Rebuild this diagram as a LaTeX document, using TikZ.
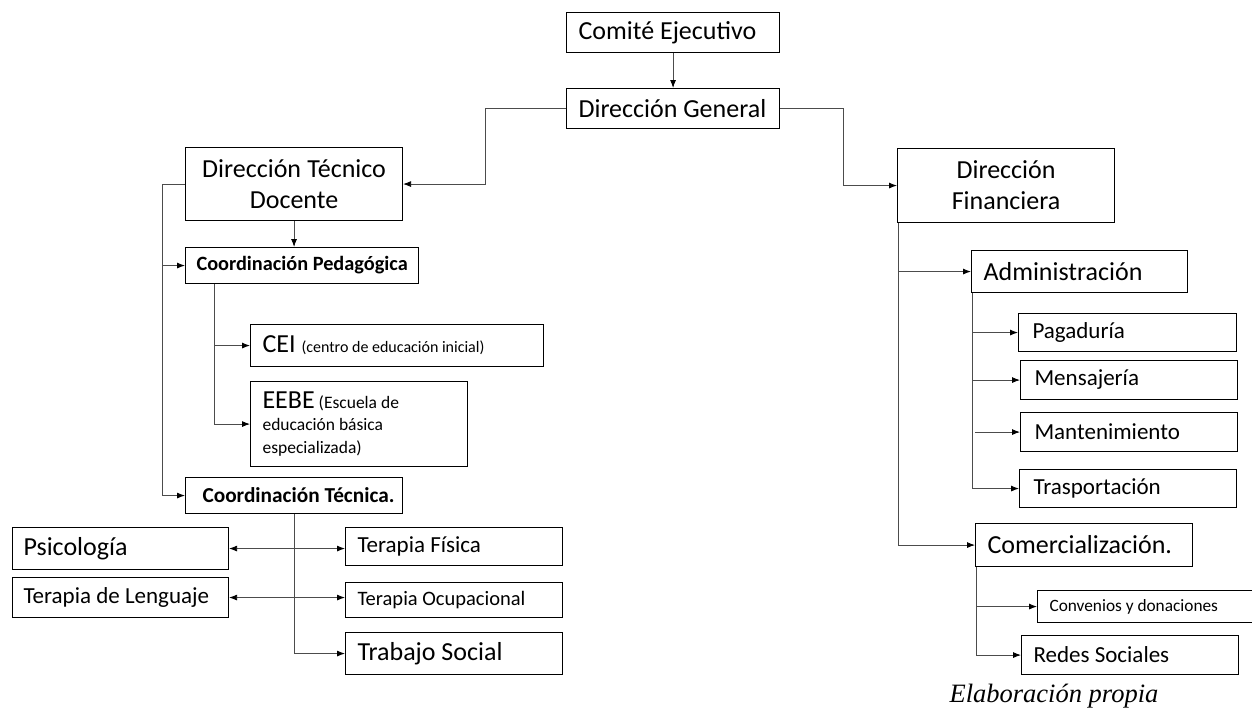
\documentclass[tikz,border=0pt]{standalone}
\usepackage{fontspec}
\setmainfont{Carlito}
\newfontfamily\capfont{Liberation Serif}
\usetikzlibrary{arrows.meta}
\tikzset{
  box/.style={draw=black, line width=1.1pt, inner sep=0pt, anchor=north west, align=left,
    execute at begin node={\spaceskip=0pt\xspaceskip=0pt\relax}},
  conn/.style={draw=black!70, line width=0.8pt},
  tip/.style={Latex[length=8pt,width=6pt,color=black]},
  arr/.style={conn, -{Latex[length=8pt,width=6pt,color=black]}},
  dbl/.style={conn, {Latex[length=8pt,width=6pt,color=black]}-{Latex[length=8pt,width=6pt,color=black]}},
  big/.style={font=\fontsize{26}{31}\selectfont},
  mid/.style={font=\fontsize{23}{27}\selectfont},
}
\begin{document}
\begin{tikzpicture}[x=1pt,y=-1pt]
\useasboundingbox (0,0) rectangle (1252,715);
% top
\node[box, big, minimum width=213, minimum height=40, text width=189] (ce) at (566,12) {\mbox{Comité Ejecutivo}};
\node[box, big, minimum width=213, minimum height=40, text width=189] (dg) at (566,88) {\mbox{Dirección General}};
\node[box, big, minimum width=217, minimum height=73, text width=200, align=center] (dtd) at (185,147) {Dirección Técnico\\Docente};
\node[box, big, minimum width=217, minimum height=74, text width=200, align=center] (df) at (897,148) {Dirección\\Financiera};
% left side
\node[box, font=\fontsize{20.3}{24}\selectfont\bfseries, minimum width=233, minimum height=36, text width=211] (cp) at (185,247) {\mbox{Coordinación Pedagógica}};
\node[box, big, minimum width=293, minimum height=42, text width=269] (cei) at (250,324) {\mbox{CEI {\fontsize{16}{19}\selectfont(centro de educación inicial)}}};
\node[box, font=\fontsize{17.5}{22.5}\selectfont, minimum width=217, minimum height=85, text width=193] (eebe) at (250,381) {{\fontsize{26}{22.5}\selectfont EEBE} (Escuela de\\educación básica\\especializada)};
\node[box, font=\fontsize{21.3}{25}\selectfont\bfseries, minimum width=217, minimum height=36, text width=183] (ct) at (185,477) {\mbox{Coordinación Técnica.}};
\node[box, big, minimum width=216, minimum height=42, text width=194] (psi) at (12,527) {\mbox{Psicología}};
\node[box, mid, minimum width=216, minimum height=40, text width=194] (tl) at (12,577) {\mbox{Terapia de Lenguaje}};
\node[box, mid, minimum width=217, minimum height=38, text width=193] (tf) at (345,527) {\mbox{Terapia Física}};
\node[box, font=\fontsize{20.5}{24}\selectfont, minimum width=217, minimum height=35, text width=193] (to) at (345,582) {\mbox{Terapia Ocupacional}};
\node[box, big, minimum width=217, minimum height=42, text width=193] (ts) at (345,632) {\mbox{Trabajo Social}};
% right side
\node[box, big, minimum width=216, minimum height=42, text width=192] (adm) at (971,250) {\mbox{Administración}};
\node[box, mid, minimum width=218, minimum height=38, text width=190] (pag) at (1018,313) {\mbox{Pagaduría}};
\node[box, mid, minimum width=217, minimum height=39, text width=189] (men) at (1020,360) {\mbox{Mensajería}};
\node[box, mid, minimum width=217, minimum height=39, text width=189] (man) at (1020,412) {\mbox{Mantenimiento}};
\node[box, mid, minimum width=217, minimum height=38, text width=189] (tra) at (1019,469) {\mbox{Trasportación}};
\node[box, big, minimum width=217, minimum height=43, text width=193] (com) at (975,523) {\mbox{Comercialización.}};
\node[box, font=\fontsize{17.3}{21}\selectfont, minimum width=220, minimum height=32, text width=196] (conv) at (1037,590) {\mbox{Convenios y donaciones}};
\node[box, mid, minimum width=217, minimum height=39, text width=193] (red) at (1021,635) {\mbox{Redes Sociales}};
\node[anchor=center, inner sep=0pt, font=\capfont\itshape\fontsize{26.5}{30}\selectfont] (cap) at (1054,696) {Elaboración propia};
% connectors top
\draw[arr] (ce.south) -- (dg.north);
\draw[arr] (dg.west) -- ++(-81,0) |- (dtd.east);
\draw[arr] (dg.east) -- ++(63,0) |- (df.west);
\draw[arr] (dtd.south) -- (dtd.south |- cp.north);
% left bus
\draw[arr] (dtd.west) -- ++(-23,0) coordinate (lb) |- (ct.west);
\draw[arr] (lb |- cp.west) -- (cp.west);
\coordinate (pb) at ([xshift=29]cp.south west);
\draw[arr] (pb) |- (eebe.west);
\draw[arr] (pb |- cei.west) -- (cei.west);
\draw[arr] (ct.south) |- (ts.west);
\draw[dbl] (psi.east) -- (psi.east -| tf.west);
\draw[dbl] (tl.east) -- (tl.east -| to.west);
% right bus
\coordinate (rb) at ([xshift=1]df.south west);
\draw[arr] (rb) |- (com.west);
\draw[arr] (rb |- adm.west) -- (adm.west);
\coordinate (ab) at ([xshift=1]adm.south west);
\draw[arr] (ab) |- (tra.west);
\draw[arr] (ab |- pag.west) -- (pag.west);
\draw[arr] (ab |- men.west) -- (men.west);
\draw[arr] ([xshift=3]ab |- man.west) -- (man.west);
\coordinate (cb) at ([xshift=1]com.south west);
\draw[arr] (cb) |- (red.west);
\draw[arr] (cb |- conv.west) -- (conv.west);
\end{tikzpicture}
\end{document}
